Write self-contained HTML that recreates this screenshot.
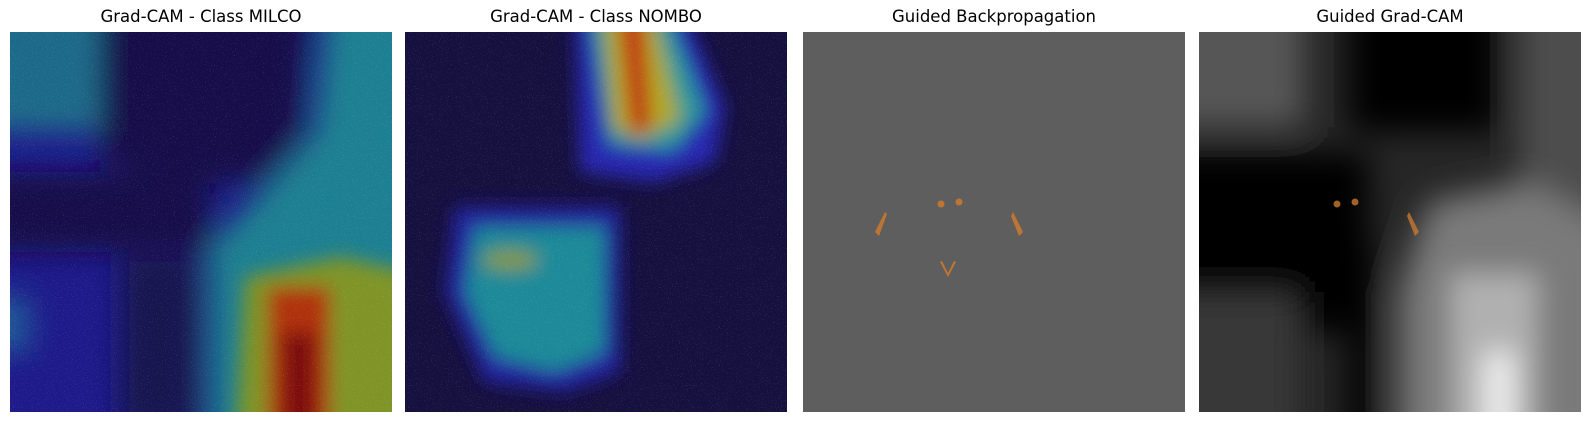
<!DOCTYPE html>
<html><head><meta charset="utf-8"><style>
html,body{margin:0;padding:0;background:#fff;width:1589px;height:423px;overflow:hidden;font-family:"DejaVu Sans","Liberation Sans",sans-serif;position:relative}
.t{position:absolute;top:7px;font-size:16.5px;color:#000;text-align:center;width:382px;white-space:nowrap}
svg.p{position:absolute;top:32px;width:382px;height:380px}
</style></head><body>
<div class="t" style="left:10px">Grad-CAM - Class MILCO</div>
<div class="t" style="left:405px">Grad-CAM - Class NOMBO</div>
<div class="t" style="left:803px">Guided Backpropagation</div>
<div class="t" style="left:1199px">Guided Grad-CAM</div>

<svg width="1" height="1" style="position:absolute;left:0;top:0"><defs>
<filter id="b1" filterUnits="userSpaceOnUse" x="-100" y="-100" width="600" height="600"><feGaussianBlur stdDeviation="14"/></filter>
<filter id="b2" filterUnits="userSpaceOnUse" x="-100" y="-100" width="600" height="600"><feGaussianBlur stdDeviation="9"/></filter>
<filter id="b3" filterUnits="userSpaceOnUse" x="-100" y="-100" width="600" height="600"><feGaussianBlur stdDeviation="16"/></filter>
<filter id="nz" filterUnits="userSpaceOnUse" x="0" y="0" width="382" height="381"><feTurbulence type="fractalNoise" baseFrequency="0.9" numOctaves="1" seed="3"/><feColorMatrix values="0 0 0 0 1  0 0 0 0 0.75  0 0 0 0 0.7  0 0 0 2 -1.2"/></filter>
</defs></svg>

<svg class="p" style="left:10px" viewBox="0 0 382 380">
<clipPath id="c1"><rect width="382" height="380"/></clipPath>
<g clip-path="url(#c1)">
<rect width="382" height="380" fill="#1e1a8a"/>
<g filter="url(#b1)">
<rect x="-30" y="-30" width="120" height="130" fill="#1a6a8a"/>
<path d="M90,-30 L300,-30 L290,110 L250,150 L190,150 L90,130 Z" fill="#181048"/>
<rect x="-30" y="140" width="230" height="80" fill="#151048"/>
<rect x="110" y="225" width="80" height="180" fill="#181250"/>
<path d="M318,-30 L420,-30 L420,420 L200,420 L200,215 L265,145 L305,100 Z" fill="#1a8092"/>
<rect x="-30" y="265" width="50" height="55" fill="#1c5a98"/>
</g>
<g filter="url(#b2)">
<path d="M235,245 L330,225 L400,240 L400,420 L225,420 Z" fill="#7f9428"/>
<rect x="258" y="255" width="62" height="160" fill="#b03010"/>
<rect x="272" y="300" width="34" height="120" fill="#7a1008"/>
</g>
<rect width="382" height="380" filter="url(#nz)" opacity="0.45"/>
</g>
</svg>

<svg class="p" style="left:405px" viewBox="0 0 382 380">
<clipPath id="c2"><rect width="382" height="380"/></clipPath>
<g clip-path="url(#c2)">
<rect width="382" height="380" fill="#15103e"/>
<g filter="url(#b2)">
<path d="M170,-20 L280,-20 L320,75 L310,130 L250,150 L175,140 Z" fill="#2828b0"/>
<path d="M185,-20 L262,-20 L300,80 L268,118 L205,112 Z" fill="#2a9a98"/>
<path d="M198,-20 L248,-20 L275,88 L236,108 L208,96 Z" fill="#b0a820"/>
<path d="M214,-20 L238,-20 L246,98 L226,102 Z" fill="#c02010"/>
<path d="M50,175 L215,175 L215,340 L160,360 L80,350 L40,260 Z" fill="#2420a0"/>
<path d="M70,195 L200,195 L200,320 L150,340 L90,325 L60,260 Z" fill="#1c8a98"/>
<ellipse cx="105" cy="228" rx="28" ry="9" fill="#8a9a30"/>
</g>
<rect width="382" height="380" filter="url(#nz)" opacity="0.45"/>
</g>
</svg>

<svg class="p" style="left:803px" viewBox="0 0 382 380">
<rect width="382" height="380" fill="#5e5e5e"/>
<g fill="#c87830" opacity="0.9">
<circle cx="138" cy="172" r="3.5"/><circle cx="156" cy="170" r="3.5"/>
<path d="M72,200 L82,180 L84,182 L76,204 Z"/><path d="M210,180 L220,200 L216,204 L208,184 Z"/>
<path d="M137,230 L145,245 L153,230 L151,229 L145,241 L139,229 Z"/>
</g>
</svg>

<svg class="p" style="left:1199px" viewBox="0 0 382 380">
<clipPath id="c4"><rect width="382" height="380"/></clipPath>
<g clip-path="url(#c4)">
<rect width="382" height="380" fill="#262626"/>
<g filter="url(#b3)">
<rect x="-40" y="-40" width="145" height="135" fill="#565656"/>
<rect x="150" y="-40" width="150" height="140" fill="#000"/>
<rect x="320" y="-40" width="100" height="260" fill="#4e4e4e"/>
<rect x="-40" y="120" width="210" height="180" fill="#000"/>
<rect x="-40" y="260" width="140" height="160" fill="#383838"/>
<path d="M230,170 L330,150 L420,200 L420,420 L200,420 L200,260 Z" fill="#7a7a7a"/>
<rect x="148" y="210" width="28" height="210" fill="#000"/>
</g>
<g filter="url(#b1)">
<rect x="250" y="240" width="90" height="180" fill="#b0b0b0"/>
<rect x="285" y="320" width="30" height="100" fill="#f0f0f0"/>
</g>
<g fill="#c87830" opacity="0.8">
<circle cx="138" cy="172" r="3.5"/><circle cx="156" cy="170" r="3.5"/>
<path d="M210,180 L220,200 L216,204 L208,184 Z"/>
</g>
</g>
</svg>
</body></html>
